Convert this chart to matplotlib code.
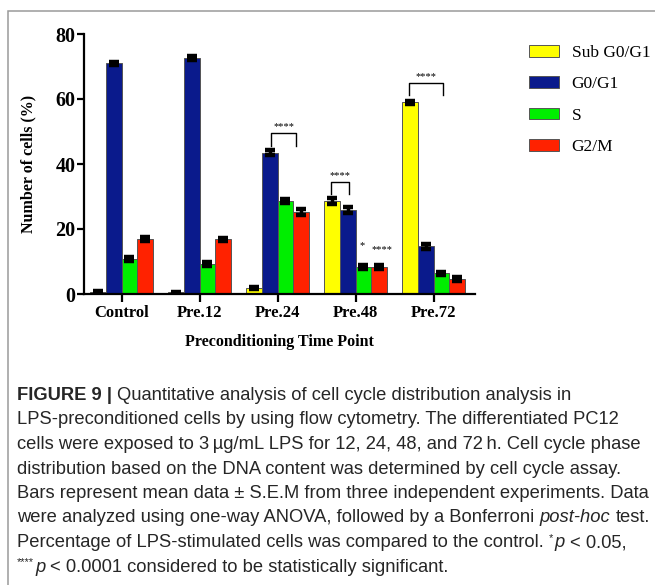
import matplotlib.pyplot as plt
import matplotlib.patches as mpatches
import numpy as np

# データ
groups = ["Control", "Pre.12", "Pre.24", "Pre.48", "Pre.72"]
phases = ["Sub G0/G1", "G0/G1", "S", "G2/M"]
sub_g0g1 = [0.6, 0.5, 1.9, 28.6, 59.0]
g0g1 = [71.0, 72.6, 43.5, 25.8, 14.7]
s_phase = [10.7, 9.1, 28.6, 8.3, 6.4]
g2m = [16.9, 16.8, 25.3, 8.3, 4.7]
sub_err = [0.3, 0.2, 0.3, 0.8, 0.5]
g0g1_err = [0.5, 0.5, 0.8, 0.9, 0.8]
s_err = [0.6, 0.6, 0.7, 0.6, 0.5]
g2m_err = [0.5, 0.5, 0.9, 0.5, 0.6]
colors = ["#ffff00", "#0a1a8c", "#00ee00", "#ff2200"]
yticks = [0, 20, 40, 60, 80]

# 有意差の表示 (x0, x1, y_top, y_leg, label)
brackets = [(1.92, 2.24, 49.4, 45.6, "****"),
            (2.69, 2.92, 34.5, 30.9, "****"),
            (3.68, 4.12, 64.8, 61.2, "****")]
marks = [(3.08, 15.0, "*"), (3.34, 13.8, "****")]

W, H = 655, 585
SERIF = "Liberation Serif"
SANS = "Liberation Sans"

fig = plt.figure(figsize=(W / 100, H / 100), dpi=100)

# 外枠
frame = mpatches.Rectangle((8 / W, -0.2), 1.2, (1 - 11 / H) + 0.2,
                           transform=fig.transFigure, fill=False,
                           edgecolor="#9a9a9a", linewidth=1.1, clip_on=False)
fig.patches.append(frame)

ax = fig.add_axes([84 / W, 1 - 294 / H, 391 / W, 260 / H])

x = np.arange(len(groups))
width = 0.2
series = [sub_g0g1, g0g1, s_phase, g2m]
errors = [sub_err, g0g1_err, s_err, g2m_err]
offsets = [-0.3, -0.1, 0.1, 0.3]
for vals, errs, c, off, lab in zip(series, errors, colors, offsets, phases):
    ax.bar(x + off, vals, width, color=c, edgecolor="#555555",
           linewidth=0.7, label=lab, zorder=2)
    ax.errorbar(x + off, vals, yerr=errs, fmt="none", ecolor="black",
                elinewidth=2.5, capsize=3.8, capthick=3.2, zorder=3)

for x0, x1, yt, yl, lab in brackets:
    ax.plot([x0, x0, x1, x1], [yl, yt, yt, yl], color="black", lw=1.0,
            clip_on=False, zorder=4)
    ax.text((x0 + x1) / 2, yt + 0.6, lab, ha="center", va="bottom",
            fontsize=7.5, family=SERIF)
for mx, my, lab in marks:
    ax.text(mx, my, lab, ha="center", va="center", fontsize=7.5, family=SERIF)

ax.set_xlim(-0.483, 4.53)
ax.set_ylim(0, 80)
ax.set_xticks(x)
ax.set_xticklabels(groups)
ax.set_yticks(yticks)
for lbl in ax.get_xticklabels():
    lbl.set_family(SERIF)
    lbl.set_weight("bold")
    lbl.set_fontsize(12)
for lbl in ax.get_yticklabels():
    lbl.set_family(SERIF)
    lbl.set_weight("bold")
    lbl.set_fontsize(14.5)

for side in ["top", "right"]:
    ax.spines[side].set_visible(False)
for side in ["left", "bottom"]:
    ax.spines[side].set_linewidth(1.6)
ax.tick_params(axis="x", direction="out", length=6, width=1.6, pad=2)
ax.tick_params(axis="y", direction="out", length=5, width=1.6, pad=1)

ax.set_xlabel("Preconditioning Time Point", family=SERIF, weight="bold",
              fontsize=11.5, labelpad=9)
ax.set_ylabel("Number of cells (%)", family=SERIF, weight="bold",
              fontsize=11.5, labelpad=14)

# 凡例
handles = [mpatches.Patch(facecolor=c, edgecolor="#555555", linewidth=0.7,
                          label=p) for c, p in zip(colors, phases)]
fig.legend(handles=handles, loc="upper left",
           bbox_to_anchor=(529 / W, 1 - 45 / H), frameon=False,
           prop={"family": SERIF, "size": 12.5}, handlelength=1.75,
           handleheight=0.65, labelspacing=0.88, handletextpad=0.7,
           borderpad=0, borderaxespad=0)

# キャプション
cap_fs = 13.2
cap_color = "#262626"
caption = [
    [("FIGURE 9 |", "bold"), (" ", "gap"),
     ("Quantitative analysis of cell cycle distribution analysis in", "normal")],
    [("LPS-preconditioned cells by using flow cytometry. The differentiated PC12", "normal")],
    [("cells were exposed to 3\u2009\u00b5g/mL LPS for 12, 24, 48, and 72\u2009h. Cell cycle phase", "normal")],
    [("distribution based on the DNA content was determined by cell cycle assay.", "normal")],
    [("Bars represent mean data \u00b1 S.E.M from three independent experiments. Data", "normal")],
    [("were analyzed using one-way ANOVA, followed by a Bonferroni", "normal"),
     (" ", "gap"), ("post-hoc", "italic"), (" ", "gap"), ("test.", "normal")],
    [("Percentage of LPS-stimulated cells was compared to the control.", "normal"),
     (" ", "gap"), ("*", "sup"), ("p", "italic"), (" ", "gap"), ("< 0.05,", "normal")],
    [("****", "sup"), ("p", "italic"), (" ", "gap"),
     ("< 0.0001 considered to be statistically significant.", "normal")],
]

renderer = fig.canvas.get_renderer()


def text_width(s, **kw):
    t = fig.text(0, 0, s, fontsize=cap_fs, family=SANS, **kw)
    w = t.get_window_extent(renderer).width
    t.remove()
    return w


space_w = text_width("x x") - text_width("xx")

for i, parts in enumerate(caption):
    xpos = 17.0
    base = 400 + 24.5 * i
    for txt, style in parts:
        if style == "gap":
            xpos += space_w
            continue
        kw = dict(family=SANS, fontsize=cap_fs, color=cap_color)
        ypix = base
        if style == "bold":
            kw["weight"] = "bold"
        elif style == "italic":
            kw["style"] = "italic"
        elif style == "sup":
            kw["fontsize"] = cap_fs * 0.6
            ypix = base - 6
        t = fig.text(xpos / W, 1 - ypix / H, txt, ha="left", va="baseline", **kw)
        xpos += t.get_window_extent(renderer).width + (1 if style == "sup" else 0)

fig.savefig("out.png", dpi=100)
